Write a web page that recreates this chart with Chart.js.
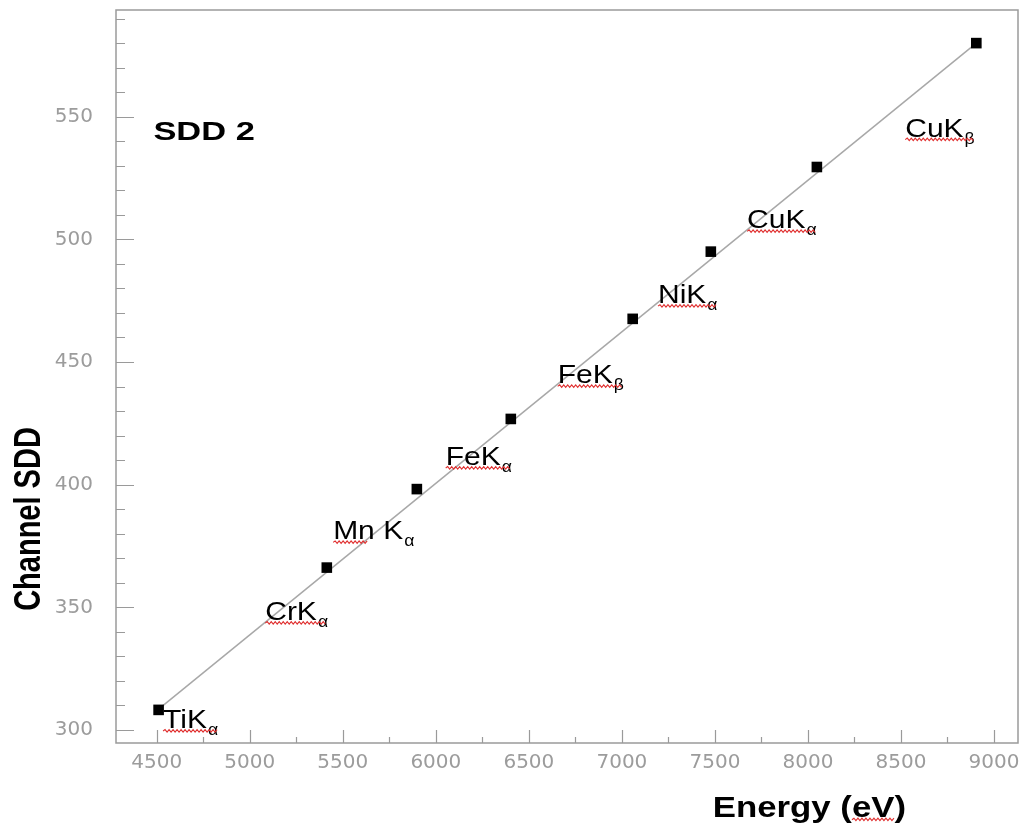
<!DOCTYPE html>
<html>
<head>
<meta charset="utf-8">
<script src="https://cdn.jsdelivr.net/npm/chart.js@4/dist/chart.umd.min.js"></script>
<style>
html,body{margin:0;padding:0;background:#fff;}
canvas{display:block;}
</style>
</head>
<body>
<canvas id="c" width="1029" height="824"></canvas>
<script>
// ---- data ----
const energies  = [4510, 5414, 5898, 6403, 7058, 7478, 8048, 8905];
const channels  = [308.2, 366.2, 398.2, 426.8, 467.6, 495.0, 529.5, 580.0];
const lineNames = ['TiK', 'CrK', 'Mn K', 'FeK', 'FeK', 'NiK', 'CuK', 'CuK'];
const lineSubs  = ['α', 'α', 'α', 'α', 'β', 'α', 'α', 'β'];
const labelEnergy  = [4534, 5083, 5448, 6053, 6655, 7194, 7673, 8523];
const labelChannel = [300.8, 344.8, 377.7, 408.0, 441.3, 474.0, 504.5, 541.9];
const fitEnergies = [4510, 8905];
const fitChannels = [308.5, 580.0];
const xTickValues = [4500, 5000, 5500, 6000, 6500, 7000, 7500, 8000, 8500, 9000];
const yTickValues = [300, 350, 400, 450, 500, 550];
const xRange = [4281, 9129];
const yRange = [294.7, 593.5];
const detectorTitle = 'SDD 2';
const detectorTitlePos = [4482, 540.5];
const xTitle = 'Energy (eV)';
const yTitle = 'Channel SDD';

const AXIS = '#9a9a9a';

function squiggle(ctx, x1, x2, y) {
  ctx.save();
  ctx.strokeStyle = '#e03030';
  ctx.lineWidth = 1.1;
  ctx.beginPath();
  let up = true;
  ctx.moveTo(x1, y);
  for (let x = x1 + 2; x <= x2; x += 2) {
    ctx.lineTo(x, up ? y - 1.5 : y + 1);
    up = !up;
  }
  ctx.stroke();
  ctx.restore();
}

function drawText(ctx, text, x, y, font, sx, color) {
  ctx.save();
  ctx.translate(x, y);
  ctx.scale(sx, 1);
  ctx.font = font;
  ctx.fillStyle = color || '#000';
  ctx.textAlign = 'left';
  ctx.textBaseline = 'alphabetic';
  ctx.fillText(text, 0, 0);
  const w = ctx.measureText(text).width * sx;
  ctx.restore();
  return w;
}

const decor = {
  id: 'decor',
  beforeDatasetsDraw(chart) {
    const ctx = chart.ctx, a = chart.chartArea;
    const xs = chart.scales.x, ys = chart.scales.y;
    ctx.save();
    ctx.strokeStyle = AXIS;
    ctx.lineWidth = 1.5;
    ctx.strokeRect(a.left, a.top, a.right - a.left, a.bottom - a.top);
    ctx.lineWidth = 1.2;
    ctx.beginPath();
    for (let v = 4500; v <= 9000; v += 250) {
      const px = Math.round(xs.getPixelForValue(v)) + 0.5;
      const len = (v % 500 === 0) ? 13 : 6;
      ctx.moveTo(px, a.bottom);
      ctx.lineTo(px, a.bottom - len);
    }
    for (let v = 300; v <= 590; v += 10) {
      const py = Math.round(ys.getPixelForValue(v)) + 0.5;
      const len = (v % 50 === 0) ? 18 : 9;
      ctx.moveTo(a.left, py);
      ctx.lineTo(a.left + len, py);
    }
    ctx.stroke();
    ctx.restore();
  },
  afterDraw(chart) {
    const ctx = chart.ctx;
    const xs = chart.scales.x, ys = chart.scales.y;
    const mainFont = '25px "Liberation Sans", Arial, sans-serif';
    const subFont = '16px "Liberation Sans", Arial, sans-serif';
    for (let i = 0; i < lineNames.length; i++) {
      const x = xs.getPixelForValue(labelEnergy[i]);
      const y = ys.getPixelForValue(labelChannel[i]);
      const w = drawText(ctx, lineNames[i], x, y, mainFont, 1.2, '#000');
      const sw = drawText(ctx, lineSubs[i], x + w + 1, y + 7, subFont, 1.1, '#000');
      const sqEnd = lineNames[i].indexOf(' ') > 0 ? x + w * 0.5 : x + w + sw;
      squiggle(ctx, x, sqEnd, y + 3);
    }
    drawText(ctx, detectorTitle,
      xs.getPixelForValue(detectorTitlePos[0]), ys.getPixelForValue(detectorTitlePos[1]),
      'bold 25.5px "Liberation Sans", Arial, sans-serif', 1.35, '#000');
    const bf = 'bold 30px "Liberation Sans", Arial, sans-serif';
    const tx = 712.7, ty = 816.7;
    drawText(ctx, xTitle, tx, ty, bf, 1.16, '#000');
    ctx.save();
    ctx.font = bf;
    const pre = ctx.measureText('Energy (').width * 1.16;
    const ev = ctx.measureText('eV').width * 1.16;
    ctx.restore();
    squiggle(ctx, tx + pre, tx + pre + ev, ty + 3);
    ctx.save();
    ctx.translate(40, 519);
    ctx.scale(1.28, 1);
    ctx.rotate(-Math.PI / 2);
    ctx.font = 'bold 29px "Liberation Sans", Arial, sans-serif';
    ctx.fillStyle = '#000';
    ctx.textAlign = 'center';
    ctx.textBaseline = 'alphabetic';
    ctx.fillText(yTitle, 0, 0);
    ctx.restore();
  }
};

new Chart(document.getElementById('c'), {
  type: 'scatter',
  data: {
    datasets: [
      {
        label: 'points',
        data: energies.map((e, i) => ({ x: e, y: channels[i] })),
        pointStyle: 'rect',
        pointRadius: 7.5,
        pointHoverRadius: 7.5,
        backgroundColor: '#000',
        borderColor: '#000',
        borderWidth: 0
      },
      {
        label: 'fit',
        data: fitEnergies.map((e, i) => ({ x: e, y: fitChannels[i] })),
        showLine: true,
        borderColor: '#a8a8a8',
        borderWidth: 1.5,
        pointRadius: 0,
        pointHoverRadius: 0
      }
    ]
  },
  options: {
    responsive: false,
    animation: false,
    devicePixelRatio: 1,
    layout: { padding: { top: 10, right: 11, left: 0, bottom: 0 } },
    plugins: { legend: { display: false }, title: { display: false }, tooltip: { enabled: false } },
    scales: {
      x: {
        type: 'linear',
        min: xRange[0],
        max: xRange[1],
        grid: { display: false, drawTicks: false },
        border: { display: false },
        afterBuildTicks: s => { s.ticks = xTickValues.map(v => ({ value: v })); },
        afterFit: s => { s.height = 81; s.paddingLeft = 0; s.paddingRight = 0; },
        ticks: {
          autoSkip: false,
          maxRotation: 0,
          padding: 8,
          color: '#9c9c9c',
          font: { family: '"DejaVu Sans"', size: 20 },
          callback: v => String(v)
        }
      },
      y: {
        type: 'linear',
        min: yRange[0],
        max: yRange[1],
        grid: { display: false, drawTicks: false },
        border: { display: false },
        afterBuildTicks: s => { s.ticks = yTickValues.map(v => ({ value: v })); },
        afterFit: s => { s.width = 116; s.paddingTop = 0; s.paddingBottom = 0; },
        ticks: {
          autoSkip: false,
          padding: 23,
          color: '#9c9c9c',
          font: { family: '"DejaVu Sans"', size: 20 },
          callback: v => String(v)
        }
      }
    }
  },
  plugins: [decor]
});
</script>
</body>
</html>
